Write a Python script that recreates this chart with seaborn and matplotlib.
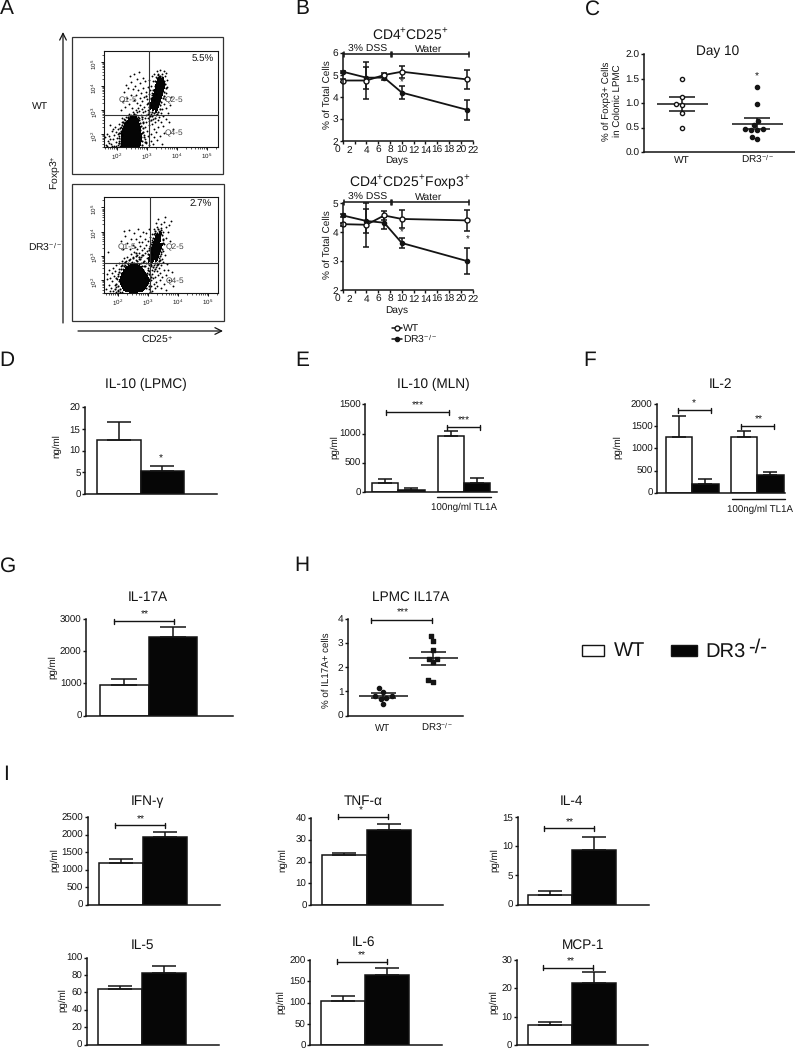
#!/usr/bin/env python
# coding: utf-8

import numpy as np
import pandas as pd
import matplotlib
matplotlib.use('Agg')
import matplotlib.pyplot as plt
from matplotlib.colors import ListedColormap
from matplotlib.patches import Rectangle
from matplotlib.transforms import ScaledTranslation
import seaborn as sns

W, H = 795, 1050
INK = '#141414'

# panel A, flow plots, log10 units
wt_core = [(2.27, 1.62), (2.5, 1.62), (2.68, 1.62), (2.27, 1.9), (2.5, 1.9), (2.68, 1.9),
           (2.3, 2.15), (2.5, 2.15), (2.66, 2.15), (2.42, 2.38), (2.6, 2.38), (2.55, 2.52)]
wt_arm = [(3.42, 4.32), (3.52, 4.25), (3.36, 4.16), (3.47, 4.12), (3.56, 4.05), (3.32, 3.98),
          (3.43, 3.92), (3.52, 3.86), (3.29, 3.78), (3.39, 3.72), (3.48, 3.66), (3.24, 3.56),
          (3.34, 3.5), (3.42, 3.42), (3.16, 3.32), (3.26, 3.28), (3.36, 3.2), (3.12, 3.08),
          (3.22, 3.04), (3.3, 2.96)]
wt_rim = [
    (2.06, 1.62), (2.08, 1.84), (2.05, 2.06), (2.1, 2.24), (2.14, 1.5), (2.12, 1.72), (2.16, 1.94),
    (2.13, 2.14), (2.18, 2.36), (2.2, 2.5), (2.24, 2.44), (2.28, 2.58), (2.33, 2.52), (2.36, 2.72),
    (2.41, 2.66), (2.44, 2.76), (2.5, 2.7), (2.55, 2.82), (2.6, 2.72), (2.64, 2.8), (2.7, 2.7),
    (2.73, 2.58), (2.76, 2.46), (2.8, 2.34), (2.78, 2.18), (2.82, 2.04), (2.8, 1.88), (2.84, 1.7),
    (2.82, 1.54), (2.86, 2.24), (2.88, 2.1), (2.9, 1.86), (2.87, 2.5), (2.92, 1.66), (2.84, 2.72),
    (2.98, 3.6), (3.04, 3.3), (3.08, 3.12), (3.06, 2.92), (3.12, 3.52), (3.14, 3.2), (3.16, 2.9),
    (3.18, 3.62), (3.2, 3.84), (3.22, 3.4), (3.25, 4.02), (3.28, 4.2), (3.3, 3.66), (3.34, 4.32),
    (3.38, 4.44), (3.44, 4.42), (3.5, 4.38), (3.56, 4.2), (3.6, 4.1), (3.62, 3.9), (3.58, 3.76),
    (3.56, 3.6), (3.52, 3.5), (3.48, 3.34), (3.44, 3.2), (3.42, 3.06), (3.38, 2.92), (3.34, 2.84),
    (3.24, 2.86), (3.18, 2.74), (3.1, 2.76), (3.04, 2.82), (3.26, 2.68), (3.12, 2.6),
]
wt_sparse = [
    (3.14, 2.82), (2.8, 2.8), (2.72, 2.66), (2.84, 2.62),
    (1.62, 1.55), (1.7, 1.72), (1.66, 2.02), (1.74, 1.9), (1.8, 1.6), (1.82, 2.12), (1.86, 1.78),
    (1.9, 1.52), (1.9, 1.96), (1.94, 2.3), (1.96, 1.66), (1.98, 2.08), (2.0, 1.82), (2.02, 1.54),
    (2.04, 2.22), (2.06, 1.92), (2.08, 2.42), (2.08, 1.7), (1.78, 2.36), (1.72, 1.62), (2.1, 2.06),
    (2.12, 1.58), (2.12, 1.8), (2.14, 2.3), (2.15, 2.52), (2.16, 1.98), (1.84, 1.5), (1.6, 1.86),
    (1.96, 1.5), (2.02, 2.0), (1.88, 2.2), (2.06, 1.62), (2.1, 1.5), (1.76, 1.8), (1.68, 1.5),
    (2.18, 2.68), (2.24, 2.62), (2.3, 2.72), (2.36, 2.66), (2.4, 2.82), (2.46, 2.78), (2.52, 2.92),
    (2.58, 2.84), (2.62, 3.02), (2.66, 2.9), (2.7, 3.1), (2.74, 2.98), (2.78, 3.2), (2.82, 3.06),
    (2.86, 2.9), (2.9, 3.14), (2.94, 2.96), (2.98, 2.8), (3.0, 3.24), (3.02, 3.02), (2.92, 2.68),
    (2.96, 2.52), (3.02, 2.68), (3.06, 2.54), (2.88, 2.44), (2.94, 2.3), (3.0, 2.14), (3.06, 2.36),
    (2.9, 1.96), (2.95, 1.62), (2.92, 1.78), (3.03, 1.9), (2.98, 1.68), (3.08, 1.55),
    (2.12, 3.0), (2.2, 3.38), (2.24, 3.74), (2.28, 3.12), (2.3, 4.06), (2.34, 3.5), (2.38, 3.9),
    (2.4, 3.24), (2.42, 4.4), (2.46, 3.64), (2.48, 4.16), (2.5, 3.1), (2.52, 3.86), (2.56, 4.5),
    (2.56, 3.42), (2.6, 4.02), (2.62, 3.62), (2.66, 4.28), (2.68, 3.3), (2.7, 3.82), (2.72, 4.6),
    (2.76, 3.5), (2.78, 4.12), (2.8, 3.7), (2.84, 3.36), (2.86, 4.34), (2.88, 3.92), (2.9, 3.56),
    (2.94, 4.2), (2.96, 3.74), (3.0, 3.46), (3.02, 3.96), (3.06, 3.68), (3.08, 4.26), (3.1, 3.84),
    (3.12, 3.44), (3.14, 4.02), (3.16, 4.4), (3.18, 3.72), (3.2, 4.22), (3.24, 4.5), (3.26, 3.86),
    (3.3, 4.36), (3.32, 4.62), (3.38, 4.52), (3.44, 4.66), (3.5, 4.5), (3.56, 4.62), (3.6, 4.4),
    (3.64, 4.56), (3.68, 4.24), (3.66, 3.98), (3.62, 3.72), (3.6, 3.46), (3.56, 3.24), (3.64, 3.1),
    (3.5, 3.06), (3.46, 2.88), (3.54, 2.74), (3.4, 2.72), (3.36, 2.58), (3.3, 2.78), (3.26, 2.5),
    (3.2, 2.62), (3.16, 2.4), (3.22, 2.2), (3.3, 2.1), (3.14, 2.02), (3.24, 1.88), (3.38, 2.3),
    (3.46, 2.5), (3.52, 2.34), (3.62, 2.62), (3.7, 2.86), (3.12, 1.7), (3.2, 1.6), (3.34, 1.74),
    (3.44, 1.92), (3.58, 2.06), (3.76, 3.2), (3.8, 3.56), (3.74, 2.5), (3.86, 2.2), (3.5, 1.6),
]
dr_core = [(2.3, 1.72), (2.52, 1.68), (2.74, 1.72), (2.22, 1.98), (2.46, 1.95), (2.7, 1.95),
           (2.88, 1.98), (2.3, 2.2), (2.52, 2.2), (2.74, 2.2), (2.42, 2.42), (2.64, 2.42)]
dr_arm = [(3.4, 3.92), (3.28, 3.78), (3.38, 3.7), (3.24, 3.6), (3.34, 3.52), (3.44, 3.44),
          (3.18, 3.42), (3.28, 3.34), (3.38, 3.24), (3.14, 3.22), (3.22, 3.14), (3.32, 3.04),
          (3.1, 3.02), (3.18, 2.92), (3.28, 2.84), (3.02, 2.8), (3.12, 2.72)]
dr_rim = [
    (1.9, 1.62), (1.94, 1.84), (1.92, 2.08), (1.98, 1.54), (2.0, 1.74), (2.02, 1.96), (2.0, 2.16),
    (2.04, 2.34), (2.06, 1.62), (2.08, 1.86), (2.1, 2.44), (2.12, 2.62), (2.16, 2.3), (2.2, 2.56),
    (2.24, 2.74), (2.28, 2.5), (2.32, 2.66), (2.36, 2.84), (2.42, 2.7), (2.48, 2.92), (2.54, 2.72),
    (2.58, 2.98), (2.64, 2.78), (2.7, 2.66), (2.74, 2.86), (2.8, 2.56), (2.84, 2.4), (2.88, 2.58),
    (2.92, 2.26), (2.9, 2.08), (2.96, 1.86), (2.94, 1.66), (3.0, 2.02), (3.02, 2.24), (2.98, 2.42),
    (3.04, 1.76), (3.08, 2.12), (3.06, 1.52), (2.86, 2.78), (2.78, 3.02), (2.7, 2.94), (2.6, 3.1),
    (2.98, 3.06), (3.02, 3.24), (3.06, 3.4), (3.08, 3.14), (3.12, 3.56), (3.16, 3.74), (3.2, 3.9),
    (3.1, 2.86), (3.14, 3.06), (3.24, 4.04), (3.3, 3.94), (3.34, 4.1), (3.42, 4.06), (3.46, 3.86),
    (3.48, 3.7), (3.5, 3.52), (3.46, 3.3), (3.44, 3.14), (3.4, 2.98), (3.36, 2.78), (3.3, 2.6),
    (3.22, 2.68), (3.16, 2.52), (3.08, 2.62), (3.0, 2.72), (3.24, 2.46), (3.34, 2.66), (3.4, 2.84),
]
dr_sparse = [
    (2.92, 2.7), (3.02, 2.6), (2.84, 2.76), (2.96, 2.9), (2.86, 2.58), (2.76, 2.68), (1.92, 1.72),
    (1.96, 2.02),
    (1.6, 1.62), (1.62, 2.02), (1.64, 2.24), (1.68, 1.8), (1.7, 2.42), (1.72, 1.54), (1.74, 2.1),
    (1.76, 1.68), (1.78, 2.3), (1.8, 1.94), (1.82, 1.56), (1.84, 2.5), (1.86, 2.16), (1.88, 1.8),
    (1.9, 2.36), (1.92, 1.52), (1.94, 2.62), (1.98, 2.24), (2.0, 1.6), (2.02, 2.46), (2.04, 2.72),
    (2.06, 1.5), (2.08, 2.3), (2.1, 2.58), (2.12, 2.8), (2.14, 1.52), (2.16, 2.46), (2.18, 2.68),
    (2.2, 2.9), (2.24, 2.6), (2.26, 2.78), (2.3, 2.96), (2.34, 2.7), (2.38, 2.86), (2.42, 3.06),
    (2.46, 2.76), (2.5, 2.94), (2.54, 3.16), (2.58, 2.82), (2.62, 3.02), (2.64, 3.3), (2.68, 2.86),
    (2.7, 3.12), (2.72, 3.42), (2.76, 2.96), (2.78, 3.24), (2.8, 3.56), (2.82, 3.04), (2.86, 3.34),
    (2.88, 3.68), (2.9, 3.1), (2.94, 3.46), (2.96, 3.2), (3.0, 3.6), (3.02, 3.02), (3.04, 3.34),
    (3.06, 3.78), (3.08, 3.5), (3.12, 3.9), (3.1, 3.26), (3.14, 3.66), (2.98, 2.5), (3.04, 2.38),
    (3.1, 2.56), (3.14, 2.42), (3.2, 2.62), (3.26, 2.54), (3.3, 2.7), (3.36, 2.9), (3.42, 3.06),
    (3.46, 2.86), (3.5, 3.2), (3.54, 3.5), (3.56, 3.04), (3.6, 3.72), (3.48, 3.66), (3.5, 4.0),
    (3.44, 4.14), (3.36, 4.04), (3.3, 4.2), (3.22, 3.96), (3.18, 4.12), (3.26, 4.36), (3.34, 4.5),
    (3.42, 4.3), (3.52, 4.4), (3.6, 4.2), (3.66, 4.0), (3.7, 4.26), (3.56, 4.62), (3.72, 3.6),
    (3.76, 4.44), (3.04, 4.1), (2.94, 3.96), (2.84, 4.0), (2.74, 3.82), (2.66, 4.1), (2.6, 3.7),
    (2.54, 3.94), (2.48, 3.46), (2.42, 3.7), (2.36, 4.08), (2.3, 3.52), (2.24, 3.8), (2.2, 4.02),
    (2.16, 3.3), (2.56, 3.36), (2.68, 3.56), (2.4, 3.26), (1.66, 3.16), (2.1, 3.62),
    (2.96, 2.3), (3.0, 2.1), (2.98, 1.86), (3.02, 1.62), (3.06, 2.22), (3.08, 1.98), (3.1, 1.76),
    (3.12, 2.26), (3.14, 1.56), (3.16, 2.06), (3.18, 1.84), (3.2, 2.36), (3.22, 1.66), (3.24, 2.14),
    (3.26, 1.92), (3.28, 2.38), (3.3, 1.74), (3.32, 2.2), (3.36, 2.5), (3.38, 1.98), (3.4, 2.3),
    (3.44, 2.6), (3.46, 2.12), (3.5, 2.74), (3.54, 2.4), (3.58, 2.22), (3.62, 2.66), (3.66, 2.42),
    (3.42, 1.66), (3.52, 1.82), (3.6, 1.6), (3.7, 2.0), (3.78, 2.34), (3.84, 1.74),
]

# panel B
days = [0, 4, 7, 10, 21]
cd25_wt = [4.75, 4.75, 5.0, 5.15, 4.8]
cd25_wt_sem = [0.05, 0.85, 0.1, 0.28, 0.42]
cd25_dr3 = [5.15, 4.88, 4.88, 4.2, 3.42]
cd25_dr3_sem = [0.05, 0.5, 0.1, 0.28, 0.45]
foxp3_wt = [4.27, 4.25, 4.57, 4.45, 4.4]
foxp3_wt_sem = [0.05, 0.75, 0.15, 0.3, 0.35]
foxp3_dr3 = [4.57, 4.38, 4.32, 3.62, 3.0]
foxp3_dr3_sem = [0.05, 0.42, 0.2, 0.18, 0.44]
day_ticks = [0, 2, 4, 6, 8, 10, 12, 14, 16, 18, 20, 22]

# panel C
day10_wt = [1.5, 1.12, 0.95, 0.98, 0.8, 0.5]
day10_dr3 = [1.32, 0.97, 0.63, 0.55, 0.46, 0.45, 0.45, 0.46, 0.3, 0.26]
day10_mean = [0.98, 0.58]
day10_sem = [0.14, 0.11]

# panel H
il17_wt = [1.14, 0.96, 0.8, 0.82, 0.75, 0.7, 0.49]
il17_dr3 = [3.3, 3.08, 2.7, 2.35, 2.35, 2.2, 1.4, 1.48]
il17_mean = [0.82, 2.36]
il17_sem = [0.11, 0.25]

# bar panels, white then black
il10_lpmc = [12.4, 5.3]
il10_lpmc_sem = [4.2, 1.1]
il10_mln = [150, 40, 950, 150]
il10_mln_sem = [75, 20, 95, 95]
il2 = [1260, 200, 1260, 400]
il2_sem = [460, 120, 140, 60]
il17a = [960, 2440]
il17a_sem = [170, 300]
ifng = [1200, 1940]
ifng_sem = [100, 145]
tnfa = [23, 34.3]
tnfa_sem = [1, 2.9]
il4 = [1.7, 9.4]
il4_sem = [0.7, 2.1]
il5 = [64, 82]
il5_sem = [3, 9]
il6 = [105, 166]
il6_sem = [10, 15]
mcp1 = [7.2, 22]
mcp1_sem = [1, 3.8]

sns.set_theme(style='ticks')
plt.rcParams['font.family'] = ['Liberation Sans', 'DejaVu Sans']
plt.rcParams['mathtext.fontset'] = 'custom'
plt.rcParams['mathtext.rm'] = 'Liberation Sans'
plt.rcParams['mathtext.it'] = 'Liberation Sans'
plt.rcParams['mathtext.bf'] = 'Liberation Sans'
plt.rcParams['mathtext.default'] = 'regular'
plt.rcParams['text.hinting'] = 'no_hinting'
plt.rcParams['text.color'] = INK
plt.rcParams['axes.linewidth'] = 1.1
plt.rcParams['axes.edgecolor'] = INK
plt.rcParams['xtick.color'] = INK
plt.rcParams['ytick.color'] = INK
plt.rcParams['xtick.major.size'] = 2.2
plt.rcParams['ytick.major.size'] = 2.2
plt.rcParams['xtick.major.width'] = 1.0
plt.rcParams['ytick.major.width'] = 1.0
plt.rcParams['xtick.major.pad'] = 1.5
plt.rcParams['ytick.major.pad'] = 1

fig = plt.figure(figsize=(W / 100, H / 100), dpi=100)
fig.patch.set_facecolor('white')

over = fig.add_axes([0, 0, 1, 1], zorder=10)
over.set_xlim(0, W)
over.set_ylim(H, 0)
over.axis('off')


def ax_px(l, t, r, b):
    return fig.add_axes([l / W, 1 - b / H, (r - l) / W, (b - t) / H])


def txt(x, y, s, size=7, **kw):
    kw.setdefault('ha', 'center')
    kw.setdefault('va', 'center')
    over.text(x, y, s, fontsize=size, **kw)


def bracket(x0, x1, y, stars, sx, sy):
    over.plot([x0, x1], [y, y], color=INK, lw=1)
    over.plot([x0, x0], [y - 2.5, y + 2.5], color=INK, lw=1)
    over.plot([x1, x1], [y - 2.5, y + 2.5], color=INK, lw=1)
    txt(sx, sy, stars, size=7.5)


def flow(l, t, r, b, x_range, y_range, core, arm, rim, sparse, core_level):
    ax = ax_px(l, t, r, b)
    ax.set_xscale('log')
    ax.set_yscale('log')
    # the dense clouds come out as solid shapes, single dots around them
    for pts, level, bw in ((core, core_level, 0.8), (arm, 0.3, 0.62)):
        cloud = pd.DataFrame({'x': [10 ** p[0] for p in pts], 'y': [10 ** p[1] for p in pts]})
        sns.kdeplot(data=cloud, x='x', y='y', fill=True, levels=[level, 1],
                    cmap=ListedColormap(['#050505']), bw_adjust=bw, ax=ax)
    for pts, s in ((sparse, 1.8), (rim, 2.4)):
        sns.scatterplot(x=[10 ** p[0] for p in pts], y=[10 ** p[1] for p in pts],
                        color='black', s=s, linewidth=0, ax=ax, legend=False)
    ax.set_xlim(10 ** x_range[0], 10 ** x_range[1])
    ax.set_ylim(10 ** y_range[0], 10 ** y_range[1])
    ax.set_xticks([1e2, 1e3, 1e4, 1e5])
    ax.set_yticks([1e2, 1e3, 1e4, 1e5])
    ax.tick_params(which='major', labelsize=4.5, length=2.5, width=0.7, pad=0.8)
    ax.tick_params(which='minor', length=1.5, width=0.5)
    ax.tick_params(axis='y', labelrotation=90)
    ax.set_xlabel('')
    ax.set_ylabel('')
    for s in ax.spines.values():
        s.set_linewidth(0.8)
    return ax


def bar_panel(vals, sems, box, x0, bw, ymax, yticks, gap=None):
    # box is left, top, right, bottom of the axis lines in pixels
    l, t, r, b = box
    ax = ax_px(l, t, r, b)
    n = len(vals)
    if gap is None:
        pos = list(range(n))
    else:
        pos = [0, 1, 2 + gap, 3 + gap]
    df = pd.DataFrame({'pos': pos, 'value': vals, 'kind': (['WT', 'DR3'] * n)[:n]})
    sns.barplot(data=df, x='pos', y='value', hue='kind', hue_order=['WT', 'DR3'],
                palette={'WT': 'white', 'DR3': '#060606'}, native_scale=True, dodge=False,
                width=1, edgecolor=INK, linewidth=1.1, legend=False, ax=ax, errorbar=None)
    ax.errorbar(pos, vals, yerr=[[0] * n, sems], fmt='none', ecolor=INK, elinewidth=1.1,
                capsize=0.27 * bw * 0.72, capthick=1.1, zorder=1)
    ax.set_xlim(-0.5 - (x0 - l) / bw, -0.5 - (x0 - l) / bw + (r - l) / bw)
    ax.set_ylim(0, ymax)
    ax.set_yticks(yticks)
    ax.set_xticks([])
    ax.tick_params(axis='y', labelsize=7)
    ax.set_xlabel('')
    ax.set_ylabel('')
    sns.despine(ax=ax)
    return ax


def time_panel(box, ylim, yticks, wt, wt_sem, dr3, dr3_sem):
    ax = ax_px(*box)
    for vals, sem, face, ms in ((dr3, dr3_sem, INK, 3), (wt, wt_sem, 'white', 3.6)):
        ax.errorbar(days, vals, yerr=sem, fmt='none', ecolor=INK, elinewidth=1.1,
                    capsize=2.4, capthick=1.1, clip_on=False)
        sns.lineplot(x=days, y=vals, color=INK, lw=1.3, marker='o', ms=ms,
                     markerfacecolor=face, markeredgecolor=INK, markeredgewidth=1,
                     errorbar=None, ax=ax, clip_on=False)
    ax.set_xlim(0, 22)
    ax.set_ylim(*ylim)
    ax.set_xticks(day_ticks)
    ax.set_yticks(yticks)
    ax.tick_params(labelsize=7.3)
    ax.set_xlabel('')
    ax.set_ylabel('')
    sns.despine(ax=ax)
    shift = ScaledTranslation(-4 / 72, 0, fig.dpi_scale_trans)
    for lab in ax.get_xticklabels()[:2]:
        lab.set_transform(lab.get_transform() + shift)
    return ax


def dot_panel(box, ylim, yticks, centers_px, groups, markers, faces, size, means, sems, half, cap):
    l, t, r, b = box
    ax = ax_px(l, t, r, b)
    pitch = centers_px[1] - centers_px[0]
    cats = ['WT', 'DR3']
    for cat, vals, m, face in zip(cats, groups, markers, faces):
        sns.swarmplot(x=[cat] * len(vals), y=vals, order=cats, marker=m, color=face,
                      edgecolor=INK, linewidth=1, size=size, ax=ax, warn_thresh=1)
    ax.errorbar([0, 1], means, yerr=sems, fmt='none', ecolor=INK, elinewidth=1.1,
                capsize=cap, capthick=1.1)
    ax.hlines(means, [-half, 1 - half], [half, 1 + half], color=INK, lw=1.1)
    ax.set_xlim((l - centers_px[0]) / pitch, (r - centers_px[0]) / pitch)
    ax.set_ylim(*ylim)
    ax.set_yticks(yticks)
    ax.set_xticks([])
    ax.tick_params(axis='y', labelsize=7.3)
    ax.set_xlabel('')
    ax.set_ylabel('')
    sns.despine(ax=ax)
    return ax


# panel letters
for s, x, y in (('A', 7, 9), ('B', 302, 9), ('C', 592, 9), ('D', 7, 361), ('E', 302, 361),
                ('F', 590, 361), ('G', 8, 566), ('H', 302, 566), ('I', 6, 775)):
    txt(x, y, s, size=15)

# A
flow(103.5, 51, 217.5, 147, (1.55, 5.35), (1.46, 5.46), wt_core, wt_arm, wt_rim, wt_sparse, 0.09)
flow(104, 197, 218, 293, (1.53, 5.33), (1.46, 5.43), dr_core, dr_arm, dr_rim, dr_sparse, 0.08)
over.add_patch(Rectangle((72, 37), 151, 137, fill=False, ec='#333333', lw=0.9))
over.add_patch(Rectangle((72, 184), 152, 137, fill=False, ec='#333333', lw=0.9))
for y0, y1, xg, yg in ((51, 147, 149, 115), (197, 293, 149.5, 262.5)):
    over.plot([xg, xg], [y0, y1], color='#333333', lw=0.8)
    over.plot([103.5, 218], [yg, yg], color='#333333', lw=0.8)
for x, y, s in ((128, 100, 'Q1-5'), (174, 100, 'Q2-5'), (174, 133, 'Q4-5'),
                (127, 247, 'Q1-5'), (175, 247, 'Q2-5'), (175, 281, 'Q4-5')):
    txt(x, y, s, size=6, color='#444444')
txt(203, 59, '5.5%', size=7)
txt(201, 204, '2.7%', size=7)
txt(40, 106, 'WT', size=7.5)
txt(45, 247, 'DR3$^{-/-}$', size=7.5)
txt(55, 173, 'Foxp3$^{+}$', size=7.5, rotation=90)
txt(157, 339, 'CD25$^{+}$', size=7.5)
over.annotate('', xy=(63, 32), xytext=(63, 323),
              arrowprops=dict(arrowstyle='->', color=INK, lw=0.9, shrinkA=0, shrinkB=0))
over.annotate('', xy=(223, 331), xytext=(78, 331),
              arrowprops=dict(arrowstyle='->', color=INK, lw=0.9, shrinkA=0, shrinkB=0))

# B
time_panel((342.8, 53, 472.7, 141), (2, 6), [2, 3, 4, 5, 6], cd25_wt, cd25_wt_sem, cd25_dr3, cd25_dr3_sem)
time_panel((342.8, 203, 472.7, 290), (2, 5), [2, 3, 4, 5], foxp3_wt, foxp3_wt_sem, foxp3_dr3, foxp3_dr3_sem)
txt(410, 35, 'CD4$^{+}$CD25$^{+}$', size=10)
txt(410, 182, 'CD4$^{+}$CD25$^{+}$Foxp3$^{+}$', size=10)
txt(397, 160, 'Days', size=7.3)
txt(397, 310, 'Days', size=7.3)
txt(327, 95, '% of Total Cells', size=7.2, rotation=90)
txt(327, 245, '% of Total Cells', size=7.2, rotation=90)
for y in (54, 202):
    for x0, x1 in ((344, 391), (392, 469)):
        over.plot([x0, x1], [y, y], color=INK, lw=1.1)
        over.plot([x0, x0], [y - 2.5, y + 2.5], color=INK, lw=1.1)
        over.plot([x1, x1], [y - 2.5, y + 2.5], color=INK, lw=1.1)
    txt(368, y - 5, '3% DSS', size=7.5)
    txt(429, y - 5, 'Water', size=7.5)
txt(401.7, 83, '*', size=7)
txt(401.7, 233, '*', size=7)
txt(468, 240, '*', size=7)
over.plot([392, 402], [328, 328], color=INK, lw=1.1)
over.plot([397], [328], 'o', ms=3.5, mfc='white', mec=INK, mew=1)
over.plot([392, 402], [339, 339], color=INK, lw=1.1)
over.plot([397], [339], 'o', ms=3, mfc=INK, mec=INK)
txt(403, 328, 'WT', size=7.5, ha='left')
txt(403, 339, 'DR3$^{-/-}$', size=7.5, ha='left')

# C
dot_panel((644, 54, 795, 152), (0, 2), [0, 0.5, 1, 1.5, 2], (682, 757), (day10_wt, day10_dr3),
          ('o', 'o'), ('white', INK), 3, day10_mean, day10_sem, 0.34, 9.5)
txt(718, 51, 'Day 10', size=9.8)
txt(612, 101, '% of Foxp3+ Cells\nin Colonic LPMC', size=7, rotation=90, linespacing=1.2)
txt(682, 160, 'WT', size=7.3)
txt(758, 159, 'DR3$^{-/-}$', size=7.3)
txt(757, 77, '*', size=7.5)

# D, E, F
bar_panel(il10_lpmc, il10_lpmc_sem, (85, 407.3, 217, 494), 97, 43.5, 20, [0, 5, 10, 15, 20])
txt(146, 384, 'IL-10 (LPMC)', size=9.8)
txt(57, 446, 'ng/ml', size=7, rotation=90)
txt(161, 459, '*', size=7.5)

bar_panel(il10_mln, il10_mln_sem, (365, 404.3, 497, 492), 372, 26.3, 1500, [0, 500, 1000, 1500], gap=0.5)
txt(433, 384, 'IL-10 (MLN)', size=9.8)
txt(335, 447, 'pg/ml', size=7, rotation=90)
bracket(386, 449, 412, '***', 418, 406)
bracket(447, 479.5, 427, '***', 464, 421)
over.plot([437, 491], [497, 497], color=INK, lw=1)
txt(464, 507, '100ng/ml TL1A', size=7)

bar_panel(il2, il2_sem, (657, 404, 785, 492.7), 665.7, 26.5, 2000, [0, 500, 1000, 1500, 2000], gap=0.45)
txt(720, 384, 'IL-2', size=9.8)
txt(618, 447, 'pg/ml', size=7, rotation=90)
bracket(677.7, 710.7, 410, '*', 694, 404)
bracket(741, 774, 426, '**', 759, 420)
over.plot([732, 785], [498.7, 498.7], color=INK, lw=1)
txt(760, 509, '100ng/ml TL1A', size=7)

# G, H
bar_panel(il17a, il17a_sem, (86, 619, 233, 715.7), 100, 48.5, 3000, [0, 1000, 2000, 3000])
txt(148, 597, 'IL-17A', size=9.8)
txt(53, 667, 'pg/ml', size=7, rotation=90)
bracket(114.3, 173.7, 621, '**', 145, 615)

dot_panel((348, 618.7, 463, 715.7), (0, 4), [0, 1, 2, 3, 4], (383, 433), (il17_wt, il17_dr3),
          ('o', 's'), (INK, INK), 3, il17_mean, il17_sem, 0.49, 9)
txt(411, 597, 'LPMC IL17A', size=9.8)
txt(326, 670, '% of IL17A+ cells', size=7, rotation=90)
txt(383, 728, 'WT', size=7)
txt(437, 727, 'DR3$^{-/-}$', size=7)
bracket(371, 432, 620, '***', 403, 613)

# legend
over.add_patch(Rectangle((581.7, 644.7), 22.6, 11.3, fc='white', ec=INK, lw=1))
over.add_patch(Rectangle((671, 644.7), 25.7, 11.3, fc='#060606', ec=INK, lw=1))
txt(614, 651, 'WT', size=14.5, ha='left')
txt(705, 652.5, 'DR3', size=14.5, ha='left')
txt(748, 648, '-/-', size=14.5, ha='left')

# I
cyto = (
    (ifng, ifng_sem, (87.7, 817, 220, 904.7), 99, 43.8, 2500, [0, 500, 1000, 1500, 2000, 2500],
     'IFN-γ', 147, 801, 'pg/ml', 55),
    (tnfa, tnfa_sem, (311, 818, 442.7, 905), 322, 44.5, 40, [0, 10, 20, 30, 40],
     'TNF-α', 362.7, 801, 'ng/ml', 283),
    (il4, il4_sem, (517.7, 817, 649, 904.7), 528, 44, 15, [0, 5, 10, 15],
     'IL-4', 571.7, 801, 'pg/ml', 495),
    (il5, il5_sem, (86.7, 957.7, 219, 1044.5), 98, 44, 100, [0, 20, 40, 60, 80, 100],
     'IL-5', 142.7, 945.7, 'pg/ml', 63),
    (il6, il6_sem, (310, 960, 441.7, 1045.3), 320.7, 44, 200, [0, 50, 100, 150, 200],
     'IL-6', 363, 942.7, 'pg/ml', 281),
    (mcp1, mcp1_sem, (516.7, 960, 648, 1045.3), 527.7, 44, 30, [0, 10, 20, 30],
     'MCP-1', 582.7, 945.7, 'pg/ml', 494),
)
for vals, sems, box, x0, bw, ymax, ticks, title, tx, ty, unit, ux in cyto:
    bar_panel(vals, sems, box, x0, bw, ymax, ticks)
    txt(tx, ty, title, size=9.8)
    txt(ux, (box[1] + box[3]) / 2 - 1, unit, size=7, rotation=90)
bracket(115, 165, 825, '**', 141, 820)
bracket(337.7, 387.7, 816.7, '*', 361, 811)
bracket(544, 594, 828, '**', 570, 823)
bracket(336.7, 386.7, 961.7, '**', 362, 956)
bracket(543, 593, 967.7, '**', 571, 962)

fig.savefig('out.png', dpi=100)
